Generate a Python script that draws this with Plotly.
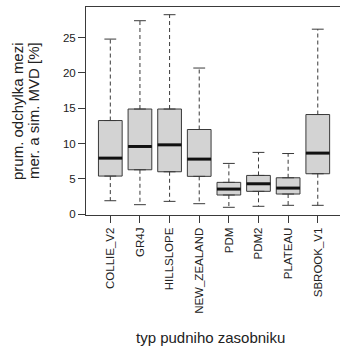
import plotly.graph_objects as go

# ---- data ----
categories = ["COLLIE_V2", "GR4J", "HILLSLOPE", "NEW_ZEALAND",
              "PDM", "PDM2", "PLATEAU", "SBROOK_V1"]
whisker_low = [1.92, 1.36, 1.83, 1.50, 0.99, 1.13, 1.27, 1.27]
q1_vals     = [5.41, 6.30, 6.02, 5.37, 2.73, 3.25, 2.87, 5.74]
medians     = [7.95, 9.60, 9.83, 7.81, 3.57, 4.32, 3.71, 8.66]
q3_vals     = [13.27, 14.90, 14.90, 12.00, 4.52, 5.50, 5.17, 14.12]
whisker_high = [24.8, 27.4, 28.25, 20.7, 7.2, 8.76, 8.6, 26.2]
y_ticks = [0, 5, 10, 15, 20, 25]

y_title_lines = ["prum. odchylka mezi", "mer. a sim. MVD [%]"]
x_title = "typ pudniho zasobniku"

# ---- style ----
FONT = "Liberation Sans, Arial, sans-serif"
EDGE = "#3a3a3a"
BOX_W = 0.8
CAP_W = 0.4

pos = list(range(1, len(categories) + 1))

fig = go.Figure()

# boxes (quartiles only; whiskers drawn dashed below)
fig.add_trace(go.Box(
    x=pos, q1=q1_vals, median=medians, q3=q3_vals,
    lowerfence=q1_vals, upperfence=q3_vals,
    width=BOX_W, fillcolor="#D3D3D3",
    line=dict(color=EDGE, width=1),
    boxpoints=False, hoverinfo="skip", showlegend=False,
))

# dashed whiskers
wx, wy = [], []
for p, lo, a, b, hi in zip(pos, whisker_low, q1_vals, q3_vals, whisker_high):
    wx += [p, p, None, p, p, None]
    wy += [b, hi, None, a, lo, None]
fig.add_trace(go.Scatter(x=wx, y=wy, mode="lines",
                         line=dict(color=EDGE, width=1, dash="4px,3px"),
                         hoverinfo="skip", showlegend=False))

# staples
sx, sy = [], []
for p, lo, hi in zip(pos, whisker_low, whisker_high):
    sx += [p - CAP_W / 2, p + CAP_W / 2, None, p - CAP_W / 2, p + CAP_W / 2, None]
    sy += [hi, hi, None, lo, lo, None]
fig.add_trace(go.Scatter(x=sx, y=sy, mode="lines",
                         line=dict(color=EDGE, width=1),
                         hoverinfo="skip", showlegend=False))

# thick medians
mx, my = [], []
for p, m in zip(pos, medians):
    mx += [p - BOX_W / 2, p + BOX_W / 2, None]
    my += [m, m, None]
fig.add_trace(go.Scatter(x=mx, y=my, mode="lines",
                         line=dict(color="#111111", width=3),
                         hoverinfo="skip", showlegend=False))

fig.update_layout(
    width=340, height=350,
    margin=dict(l=86, r=0, t=7, b=135),
    paper_bgcolor="white", plot_bgcolor="white",
    font=dict(family=FONT, size=11.5, color="#222222"),
    xaxis=dict(
        range=[0.18, 8.75], tickmode="array", tickvals=pos, ticktext=categories,
        tickangle=-90, ticks="outside", ticklen=7, tickcolor=EDGE,
        showline=True, linecolor=EDGE, linewidth=1, mirror=True,
        showgrid=False, zeroline=False,
        tickfont=dict(family=FONT, size=11.5, color="#222222"),
    ),
    yaxis=dict(
        range=[-0.1, 29.34], tickmode="array", tickvals=y_ticks,
        ticks="outside", ticklen=7, tickcolor=EDGE,
        showline=True, linecolor=EDGE, linewidth=1,
        showgrid=False, zeroline=False,
        tickfont=dict(family=FONT, size=11.5, color="#222222"),
    ),
    annotations=[
        dict(text=y_title_lines[0], xref="paper", yref="paper",
             x=-(86 - 17) / 254, y=0.5, xanchor="center", yanchor="middle",
             textangle=-90, showarrow=False,
             font=dict(family=FONT, size=15, color="#222222")),
        dict(text=y_title_lines[1], xref="paper", yref="paper",
             x=-(86 - 33) / 254, y=0.5, xanchor="center", yanchor="middle",
             textangle=-90, showarrow=False,
             font=dict(family=FONT, size=15, color="#222222")),
        dict(text=x_title, xref="paper", yref="paper",
             x=0.49, y=-(337 - 215) / 208, xanchor="center", yanchor="middle",
             showarrow=False,
             font=dict(family=FONT, size=15, color="#222222")),
    ],
)

fig.write_html("out.html")
